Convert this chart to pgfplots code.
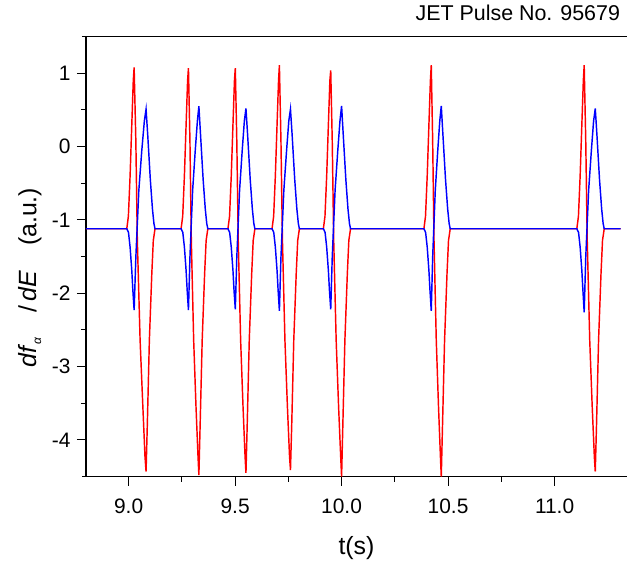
\documentclass[border=0pt]{standalone}
\usepackage{pgfplots}
\pgfplotsset{compat=1.18}
\usepackage{fontspec}
\setmainfont{Liberation Sans}
\begin{document}
\begin{tikzpicture}
\begin{axis}[
  scale only axis, width=541bp, height=440bp,
  xmin=8.8, xmax=11.34, ymin=-4.5, ymax=1.5,
  axis lines=left,
  axis line style={-, line width=1.6bp, black},
  x axis line style={shorten <=-4bp},
  xtick={9,9.5,10,10.5,11}, ytick={-4,-3,-2,-1,0,1},
  minor x tick num=1, minor y tick num=1,
  tick align=outside, major tick length=9bp, minor tick length=5bp,
  tick style={black, line width=1bp},
  /pgf/number format/assume math mode=true,
  xticklabel style={/pgf/number format/.cd, fixed, fixed zerofill, precision=1, /tikz/.cd, font=\fontsize{21}{24}\selectfont, yshift=-10bp},
  yticklabel style={font=\fontsize{21}{24}\selectfont, xshift=-3bp},
  xlabel={t(s)},
  xlabel style={font=\fontsize{25}{30}\selectfont, at={(axis description cs:0.5,0)}, anchor=center, yshift=-71bp},
  ylabel={\textit{df}\raisebox{-0.35ex}{\fontsize{12}{14}\selectfont\textit{α}}\quad/\,\textit{dE}\quad(a.u.)},
  ylabel style={font=\fontsize{25}{30}\selectfont, at={(axis description cs:-0.1035,0.452)}, anchor=center, rotate=0},
  title={JET Pulse No. 95679},
  title style={font=\fontsize{21.5}{26}\selectfont, at={(axis description cs:0.9935,1)}, anchor=base east, yshift=10.6bp},
  clip=false,
]
\addplot[red, line width=1.45bp] coordinates {
(8.80,-1.12)
(8.9915,-1.12) (8.999,-0.95) (9.007,-0.40) (9.015,0.30) (9.022,0.90) (9.026,1.08)
(9.034,0.08) (9.041,-1.28) (9.054,-2.64) (9.067,-3.55) (9.077,-4.23) (9.082,-4.43)
(9.088,-3.78) (9.0975,-2.64) (9.109,-1.73) (9.116,-1.28) (9.124,-1.12)
(9.2465,-1.12) (9.254,-0.95) (9.262,-0.40) (9.270,0.30) (9.277,0.90) (9.281,1.07)
(9.288,0.08) (9.2945,-1.28) (9.3055,-2.64) (9.3165,-3.55) (9.326,-4.23) (9.330,-4.48)
(9.336,-3.78) (9.3455,-2.64) (9.357,-1.73) (9.364,-1.28) (9.372,-1.12)
(9.4665,-1.12) (9.474,-0.95) (9.482,-0.40) (9.490,0.30) (9.497,0.90) (9.501,1.07)
(9.508,0.08) (9.5148,-1.28) (9.526,-2.64) (9.5373,-3.55) (9.5469,-4.23) (9.551,-4.45)
(9.557,-3.78) (9.5665,-2.64) (9.578,-1.73) (9.585,-1.28) (9.593,-1.12)
(9.6735,-1.12) (9.681,-0.95) (9.689,-0.40) (9.697,0.30) (9.704,0.90) (9.708,1.11)
(9.7153,0.08) (9.7223,-1.28) (9.734,-2.64) (9.7457,-3.55) (9.7557,-4.23) (9.760,-4.41)
(9.766,-3.78) (9.7755,-2.64) (9.787,-1.73) (9.794,-1.28) (9.802,-1.12)
(9.9145,-1.12) (9.922,-0.95) (9.930,-0.40) (9.938,0.30) (9.945,0.90) (9.949,1.04)
(9.9561,0.08) (9.963,-1.28) (9.9745,-2.64) (9.986,-3.55) (9.9958,-4.23) (10.000,-4.50)
(10.006,-3.78) (10.0155,-2.64) (10.027,-1.73) (10.034,-1.28) (10.042,-1.12)
(10.3865,-1.12) (10.394,-0.95) (10.402,-0.40) (10.410,0.30) (10.417,0.90) (10.421,1.11)
(10.4276,0.08) (10.4339,-1.28) (10.4445,-2.64) (10.4551,-3.55) (10.4641,-4.23) (10.468,-4.50)
(10.474,-3.78) (10.4835,-2.64) (10.495,-1.73) (10.502,-1.28) (10.510,-1.12)
(11.1045,-1.12) (11.112,-0.95) (11.120,-0.40) (11.128,0.30) (11.135,0.90) (11.139,1.11)
(11.1463,0.08) (11.1533,-1.28) (11.165,-2.64) (11.1767,-3.55) (11.1867,-4.23) (11.191,-4.43)
(11.197,-3.78) (11.2065,-2.64) (11.218,-1.73) (11.225,-1.28) (11.233,-1.12)
(11.31,-1.12)
};
\addplot[blue, line width=1.45bp] coordinates {
(8.80,-1.12)
(8.9915,-1.12) (8.9995,-1.17) (9.007,-1.37) (9.015,-1.69) (9.020,-1.96) (9.026,-2.23)
(9.034,-1.51) (9.048,-0.60) (9.062,-0.05) (9.074,0.35) (9.082,0.51)
(9.090,0.15) (9.102,-0.45) (9.112,-0.85) (9.119,-1.05) (9.124,-1.12)
(9.2465,-1.12) (9.2545,-1.17) (9.262,-1.37) (9.270,-1.69) (9.275,-1.96) (9.281,-2.23)
(9.288,-1.51) (9.3006,-0.60) (9.313,-0.05) (9.323,0.35) (9.330,0.55)
(9.338,0.15) (9.350,-0.45) (9.360,-0.85) (9.367,-1.05) (9.372,-1.12)
(9.4665,-1.12) (9.4745,-1.17) (9.482,-1.37) (9.490,-1.69) (9.495,-1.96) (9.501,-2.22)
(9.508,-1.51) (9.521,-0.60) (9.5335,-0.05) (9.5435,0.35) (9.551,0.52)
(9.559,0.15) (9.571,-0.45) (9.581,-0.85) (9.588,-1.05) (9.593,-1.12)
(9.6735,-1.12) (9.6815,-1.17) (9.689,-1.37) (9.697,-1.69) (9.702,-1.96) (9.708,-2.24)
(9.7153,-1.51) (9.7288,-0.60) (9.7418,-0.05) (9.7522,0.35) (9.760,0.51)
(9.768,0.15) (9.780,-0.45) (9.790,-0.85) (9.797,-1.05) (9.802,-1.12)
(9.9145,-1.12) (9.9225,-1.17) (9.930,-1.37) (9.938,-1.69) (9.943,-1.96) (9.949,-2.22)
(9.9561,-1.51) (9.9694,-0.60) (9.9822,-0.05) (9.9924,0.35) (10.000,0.555)
(10.008,0.15) (10.020,-0.45) (10.030,-0.85) (10.037,-1.05) (10.042,-1.12)
(10.3865,-1.12) (10.3945,-1.17) (10.402,-1.37) (10.410,-1.69) (10.415,-1.96) (10.421,-2.24)
(10.4276,-1.51) (10.4398,-0.60) (10.4516,-0.05) (10.461,0.35) (10.468,0.555)
(10.476,0.15) (10.488,-0.45) (10.498,-0.85) (10.505,-1.05) (10.510,-1.12)
(11.1045,-1.12) (11.1125,-1.17) (11.120,-1.37) (11.128,-1.69) (11.133,-1.96) (11.139,-2.26)
(11.1463,-1.51) (11.1598,-0.60) (11.1728,-0.05) (11.1832,0.35) (11.191,0.52)
(11.199,0.15) (11.211,-0.45) (11.221,-0.85) (11.228,-1.05) (11.233,-1.12)
(11.31,-1.12)
};
\end{axis}
\draw[line width=1.6bp, black] (-4bp,440bp) -- (541bp,440bp);
\pgfresetboundingbox
\useasboundingbox (-86bp,-86.3bp) rectangle (541bp,476.6bp);
\end{tikzpicture}
\end{document}
